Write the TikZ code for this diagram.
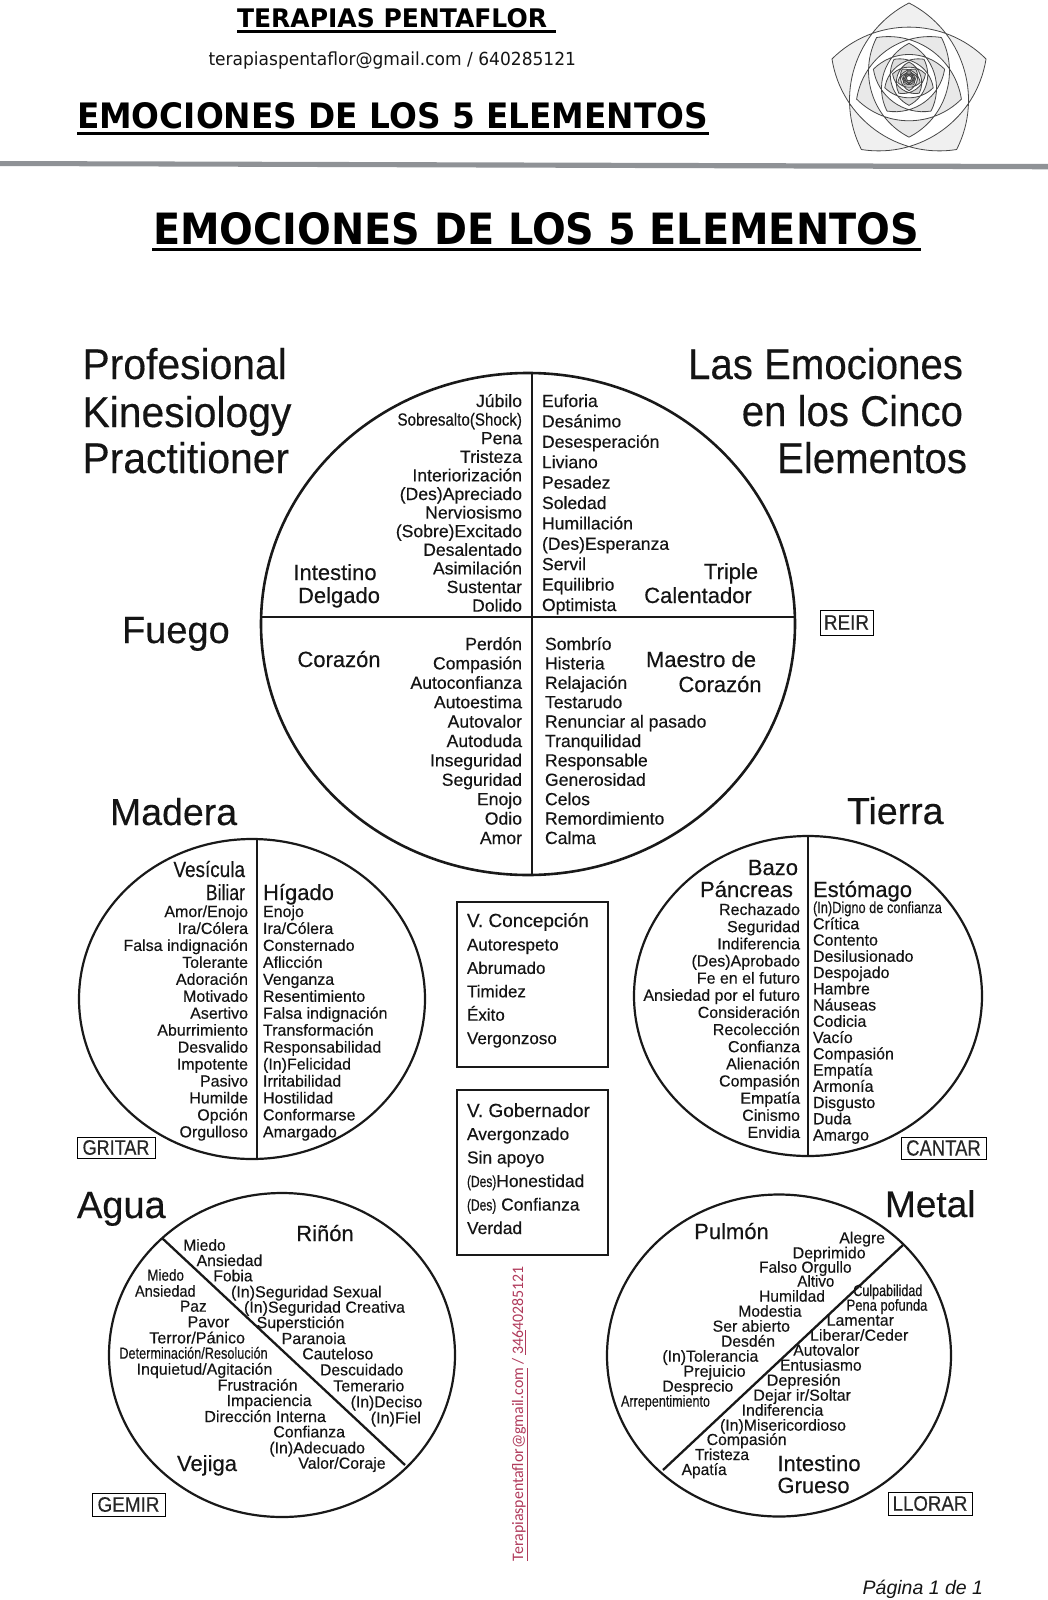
\documentclass[tikz,border=0pt]{standalone}
\usepackage{graphicx}
\usepackage{fontspec}
\setmainfont{Liberation Sans}[FakeBold=0.35]
\newfontfamily\plainfont{Liberation Sans}
\newfontfamily\headfont{DejaVu Sans}
\newfontfamily\mailfont{Carlito}
\definecolor{redtxt}{HTML}{B03A5B}
\definecolor{barcol}{HTML}{8F9296}
\newcount\nn
\newcommand\fs[1]{\fontsize{#1}{#1}\selectfont}
\newcommand\sq[2]{\scalebox{#1}[1]{#2}}
\tikzset{
  lbl/.style={inner sep=0pt,outer sep=0pt,text=black!92},
  ring/.style={line width=2.6pt,black!90},
  split/.style={line width=2.3pt,black!90},
  tagbox/.style={draw,line width=.9pt,inner sep=0pt,text=black!85},
  panel/.style={draw,line width=1.6pt,black!90},
  rule/.style={line width=3pt,black},
  petal/.style={bend left=45},
}
\newcommand\txL[4]{\global\advance\nn by 1 \node[lbl,anchor=base west] (t\the\nn) at (#1,#2) {\fs{#3}#4};}
\newcommand\txR[4]{\global\advance\nn by 1 \node[lbl,anchor=base east] (t\the\nn) at (#1,#2) {\fs{#3}#4};}
\newcommand\txC[4]{\global\advance\nn by 1 \node[lbl,anchor=base] (t\the\nn) at (#1,#2) {\fs{#3}#4};}
\newcommand\RowsL[5]{\foreach \t [count=\i from 0] in {#5} {\pgfmathsetmacro\yy{#2+#3*\i}\txL{#1}{\yy}{#4}{\t}}}
\newcommand\RowsR[5]{\foreach \t [count=\i from 0] in {#5} {\pgfmathsetmacro\yy{#2+#3*\i}\txR{#1}{\yy}{#4}{\t}}}
\newcommand\txZ[4]{\pgfmathsetmacro\xa{\zx+#1/3}\pgfmathsetmacro\xb{\zx+#2/3}\pgfmathsetmacro\yy{\zy+#3/3}%
  \global\advance\nn by 1 \node[lbl,anchor=base west] (t\the\nn) at (\xa,\yy) {\resizebox{\dimexpr\xb pt-\xa pt\relax}{\height}{\fs{16}#4}};}
\begin{document}
\begin{tikzpicture}[x=1pt,y=-1pt]
\useasboundingbox (0,0) rectangle (1048,1600);
% ---------- header
\node[lbl,anchor=south west,text=black] (h1) at (237,28) {\resizebox{310pt}{19pt}{\headfont\bfseries TERAPIAS PENTAFLOR}};
\draw[rule] (237,32) -- (556,32);
\node[lbl,anchor=base west] (h2) at (208.5,66) {\resizebox{367.5pt}{\height}{\headfont\fs{18}terapiaspentaflor@gmail.com / 640285121}};
\node[lbl,anchor=south west,text=black] (h3) at (77,129) {\resizebox{631pt}{26pt}{\headfont\bfseries EMOCIONES DE LOS 5 ELEMENTOS}};
\draw[rule,line width=3.5pt] (77,133.5) -- (709,133.5);
\fill[barcol] (0,161) -- (1048,164) -- (1048,169.3) -- (0,166) -- cycle;
\node[lbl,anchor=south west,text=black] (h4) at (153,245) {\resizebox{766pt}{32pt}{\headfont\bfseries EMOCIONES DE LOS 5 ELEMENTOS}};
\draw[rule] (152,249.5) -- (921,249.5);
% ---------- logo
\foreach \k in {0,...,8}{
  \pgfmathsetmacro\rr{81*0.68^\k}
  \pgfmathsetmacro\aa{36*\k}
  \pgfmathsetmacro\cyy{78+6*0.68^\k}
  \foreach \i in {0,...,4}{
    \pgfmathsetmacro\px{909+\rr*cos(-90+\aa+72*\i)}
    \pgfmathsetmacro\py{\cyy+\rr*sin(-90+\aa+72*\i)}
    \coordinate (v\k-\i) at (\px,\py);
  }
  \pgfmathsetmacro\gg{int(12+5*\k)}
  \path[fill=gray!\gg,even odd rule] (v\k-0) to[petal] (v\k-2) to[petal] (v\k-4) to[petal] (v\k-1) to[petal] (v\k-3) to[petal] (v\k-0);
  \draw[line width=.8pt,black!72] (v\k-0) to[petal] (v\k-2) to[petal] (v\k-4) to[petal] (v\k-1) to[petal] (v\k-3) to[petal] (v\k-0);
}
% ---------- big titles
\txL{82.5}{379}{43}{\sq{.95}{Profesional}}
\txL{82.5}{427}{43}{\sq{.95}{Kinesiology}}
\txL{82.5}{473}{43}{\sq{.95}{Practitioner}}
\txR{963}{379}{43}{\sq{.935}{Las Emociones}}
\txR{963}{426}{43}{\sq{.935}{en los Cinco}}
\txR{967}{473}{43}{\sq{.935}{Elementos}}
\txL{122}{643}{38}{Fuego}
\txL{110}{825}{37.5}{Madera}
\txL{847}{824}{37.5}{Tierra}
\txL{77}{1218}{38}{Agua}
\txL{885}{1217}{37}{Metal}
% ---------- Fuego
\draw[ring] (528,624) ellipse [x radius=267,y radius=251];
\coordinate (fT) at (532,373); \coordinate (fB) at (532,875);
\coordinate (fL) at (261,617); \coordinate (fR) at (794,617);
\draw[split] (fT) -- (fB);
\draw[split] (fL) -- (fR);
\RowsR{522}{407}{18.6}{17.6}{Júbilo,{\sq{.86}{Sobresalto(Shock)}},Pena,Tristeza,Interiorización,{(Des)Apreciado},Nerviosismo,{(Sobre)Excitado},Desalentado,Asimilación,Sustentar,Dolido}
\RowsL{542}{407}{20.4}{17.6}{Euforia,Desánimo,Desesperación,Liviano,Pesadez,Soledad,Humillación,{(Des)Esperanza},Servil,Equilibrio,Optimista}
\RowsR{522}{650}{19.4}{17.6}{Perdón,Compasión,Autoconfianza,Autoestima,Autovalor,Autoduda,Inseguridad,Seguridad,Enojo,Odio,Amor}
\RowsL{545}{650}{19.4}{17.6}{Sombrío,Histeria,Relajación,Testarudo,Renunciar al pasado,Tranquilidad,Responsable,Generosidad,Celos,Remordimiento,Calma}
\txC{335}{580}{22}{Intestino}
\txC{339}{603}{22}{Delgado}
\txC{731}{579}{22}{Triple}
\txC{698}{603}{22}{Calentador}
\txC{339}{667}{22}{Corazón}
\txC{701}{667}{22}{Maestro de}
\txC{720}{692}{22}{Corazón}
\node[tagbox,minimum width=53pt,minimum height=25pt] (reir) at (846.5,622.5) {\fs{21}\sq{.9}{REIR}};
% ---------- Madera
\draw[ring,line width=2.2pt] (252,999) ellipse [x radius=173,y radius=160];
\coordinate (mT) at (257,839); \coordinate (mB) at (257,1159);
\draw[split] (mT) -- (mB);
\txR{245}{877}{22}{\sq{.86}{Vesícula}}
\txR{245}{900}{22}{\sq{.8}{Biliar}}
\txL{263}{900}{22}{Hígado}
\RowsR{248}{917}{16.95}{16}{Amor/Enojo,Ira/Cólera,Falsa indignación,Tolerante,Adoración,Motivado,Asertivo,Aburrimiento,Desvalido,Impotente,Pasivo,Humilde,Opción,Orgulloso}
\RowsL{263}{917}{16.95}{16}{Enojo,Ira/Cólera,Consternado,Aflicción,Venganza,Resentimiento,Falsa indignación,Transformación,Responsabilidad,{(In)Felicidad},Irritabilidad,Hostilidad,Conformarse,Amargado}
\node[tagbox,minimum width=78pt,minimum height=21pt] (gritar) at (116,1147.5) {\fs{21}\sq{.86}{GRITAR}};
% ---------- Tierra
\draw[ring,line width=2.2pt] (808,996) ellipse [x radius=174,y radius=160];
\coordinate (tT) at (808,836); \coordinate (tB) at (808,1156);
\draw[split] (tT) -- (tB);
\txR{798}{875}{22}{Bazo}
\txR{793}{897}{22}{Páncreas}
\txL{813}{897}{22}{Estómago}
\RowsR{800}{915}{17.15}{16}{Rechazado,Seguridad,Indiferencia,{(Des)Aprobado},Fe en el futuro,{\sq{1}{Ansiedad por el futuro}\hspace{5pt}},Consideración,Recolección,Confianza,Alienación,Compasión,Empatía,Cinismo,Envidia}
\RowsL{813}{913}{16.25}{16}{{\sq{.8}{(In)Digno de confianza}},Crítica,Contento,Desilusionado,Despojado,Hambre,Náuseas,Codicia,Vacío,Compasión,Empatía,Armonía,Disgusto,Duda,Amargo}
\node[tagbox,minimum width=85pt,minimum height=22pt] (cantar) at (943.5,1148) {\fs{22}\sq{.84}{CANTAR}};
% ---------- central panels
\draw[panel] (457,902) rectangle (608,1067);
\txL{467}{927}{19}{V. Concepción}
\RowsL{467}{950.5}{23.4}{17}{Autorespeto,Abrumado,Timidez,Éxito,Vergonzoso}
\draw[panel] (457,1090) rectangle (608,1255);
\txL{467}{1117}{19}{V. Gobernador}
\RowsL{467}{1140}{23.5}{17.4}{Avergonzado,Sin apoyo,{{\fs{16}\sq{.75}{(Des)}}Honestidad},{{\fs{16}\sq{.75}{(Des)}} Confianza},Verdad}
% ---------- side mail
\node[lbl,text=redtxt,rotate=90,anchor=center] (mail) at (520,1413.5) {\resizebox{295pt}{\height}{\mailfont\fs{16}\underline{Terapiaspentaflor@gmail.com} / \underline{346}40285121}};
% ---------- Agua
\draw[ring,line width=2.2pt] (282,1355) ellipse [x radius=173,y radius=162];
\coordinate (aA) at (162,1238); \coordinate (aB) at (405,1465);
\draw[split] (aA) -- (aB);
\txC{325}{1241}{22}{Riñón}
\txC{207}{1471}{22}{Vejiga}
\node[tagbox,minimum width=73pt,minimum height=23pt] (gemir) at (128.5,1504.5) {\fs{21}\sq{.9}{GEMIR}};
\def\zx{60}\def\zy{1170}
\txZ{370}{497}{242}{Miedo}
\txZ{410}{607}{288}{Ansiedad}
\txZ{460}{578}{334}{Fobia}
\txZ{513}{965}{382}{(In)Seguridad Sexual}
\txZ{552}{1035}{428}{(In)Seguridad Creativa}
\txZ{590}{853}{474}{Superstición}
\txZ{665}{857}{522}{Paranoia}
\txZ{727}{940}{568}{Cauteloso}
\txZ{780}{1030}{616}{Descuidado}
\txZ{820}{1033}{664}{Temerario}
\txZ{872}{1087}{712}{(In)Deciso}
\txZ{932}{1083}{760}{(In)Fiel}
\txZ{262}{372}{332}{Miedo}
\txZ{225}{407}{380}{Ansiedad}
\txZ{360}{440}{425}{Paz}
\txZ{383}{508}{472}{Pavor}
\txZ{268}{555}{520}{Terror/Pánico}
\txZ{178}{623}{566}{Determinación/Resolución}
\txZ{230}{637}{614}{Inquietud/Agitación}
\txZ{473}{713}{662}{Frustración}
\txZ{500}{755}{708}{Impaciencia}
\txZ{433}{798}{756}{Dirección Interna}
\txZ{640}{855}{802}{Confianza}
\txZ{628}{915}{850}{(In)Adecuado}
\txZ{715}{977}{896}{Valor/Coraje}
% ---------- Metal
\draw[ring,line width=2.2pt] (779,1355.5) ellipse [x radius=172,y radius=161];
\coordinate (mA) at (903,1245); \coordinate (mZ) at (663,1470);
\draw[split] (mA) -- (mZ);
\txC{731.5}{1239}{22}{Pulmón}
\txC{819}{1471}{22}{Intestino}
\txC{813.5}{1493}{22}{Grueso}
\node[tagbox,minimum width=84pt,minimum height=23pt] (llorar) at (930,1503.5) {\fs{21}\sq{.89}{LLORAR}};
\def\zx{590}\def\zy{1170}
\txZ{748}{885}{220}{Alegre}
\txZ{608}{827}{265}{Deprimido}
\txZ{507}{785}{308}{Falso Orgullo}
\txZ{622}{733}{350}{Altivo}
\txZ{507}{705}{395}{Humildad}
\txZ{445}{635}{440}{Modestia}
\txZ{368}{600}{485}{Ser abierto}
\txZ{393}{555}{530}{Desdén}
\txZ{217}{505}{575}{(In)Tolerancia}
\txZ{280}{467}{620}{Prejuicio}
\txZ{217}{430}{665}{Desprecio}
\txZ{93}{360}{710}{Arrepentimiento}
\txZ{790}{997}{378}{Culpabilidad}
\txZ{770}{1012}{422}{Pena pofunda}
\txZ{710}{912}{467}{Lamentar}
\txZ{660}{955}{512}{Liberar/Ceder}
\txZ{610}{808}{557}{Autovalor}
\txZ{570}{815}{602}{Entusiasmo}
\txZ{530}{752}{647}{Depresión}
\txZ{490}{783}{692}{Dejar ir/Soltar}
\txZ{455}{700}{737}{Indiferencia}
\txZ{390}{768}{782}{(In)Misericordioso}
\txZ{350}{590}{825}{Compasión}
\txZ{315}{477}{870}{Tristeza}
\txZ{275}{410}{915}{Apatía}
% ---------- footer
\node[lbl,anchor=base east] (foot) at (983,1594) {\plainfont\fs{19.5}\itshape Página 1 de 1};
\end{tikzpicture}
\end{document}
